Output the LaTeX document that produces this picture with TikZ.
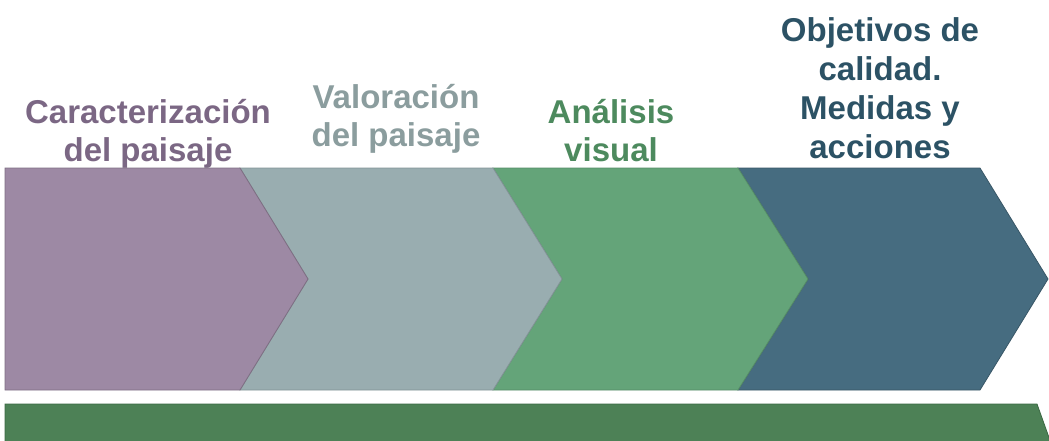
\documentclass[tikz,border=0pt]{standalone}
\usepackage{fontspec}
\setmainfont{Liberation Sans}
\definecolor{cpurp}{HTML}{9D89A4}
\definecolor{tpurp}{HTML}{7B6784}
\definecolor{cgrey}{HTML}{99ADB0}
\definecolor{tgrey}{HTML}{8B9D9E}
\definecolor{cgreen}{HTML}{64A479}
\definecolor{tgreen}{HTML}{4D8A5E}
\definecolor{cblue}{HTML}{466C80}
\definecolor{tblue}{HTML}{2C5265}
\definecolor{cbar}{HTML}{4D8156}
\definecolor{bbar}{HTML}{3B6843}
\begin{document}
\begin{tikzpicture}[x=1pt,y=-1pt,
  chev/.style={line width=0.8pt, line join=miter},
  lbl/.style={inner sep=0pt, align=center, anchor=base,
    font=\fontsize{33}{38}\selectfont\bfseries}]
\useasboundingbox (0,0) rectangle (1049,440);
\clip (0,0) rectangle (1049,440);
% labels (drawn first so the chevrons cut the descenders)
\node[lbl, text=tpurp] (t1) at (148,161) {Caracterización\\del paisaje};
\node[lbl, text=tgrey] (t2) at (396,146) {Valoración\\del paisaje};
\node[lbl, text=tgreen] (t3) at (611,161) {Análisis\\visual};
\node[lbl, text=tblue] (t4) at (880,158) {Objetivos de\\[1pt]calidad.\\[1pt]Medidas y\\[1pt]acciones};
% chevrons
\draw[chev, fill=cblue, draw=cblue!80!black] (738,168) -- (980,168) -- (1048,279) -- (980,390) -- (738,390) -- (808,279) -- cycle;
\draw[chev, fill=cgreen, draw=cgreen!85!black] (493,168) -- (738,168) -- (808,279) -- (738,390) -- (493,390) -- (562,279) -- cycle;
\draw[chev, fill=cgrey, draw=cgrey!85!black] (240,168) -- (493,168) -- (562,279) -- (493,390) -- (240,390) -- (308,279) -- cycle;
\draw[chev, fill=cpurp, draw=cpurp!80!black] (5,168) -- (240,168) -- (308,279) -- (240,390) -- (5,390) -- cycle;
% bottom bar
\draw[chev, fill=cbar, draw=bbar] (5,404) -- (1037,404) -- (1052,446) -- (5,446) -- cycle;
\end{tikzpicture}
\end{document}
